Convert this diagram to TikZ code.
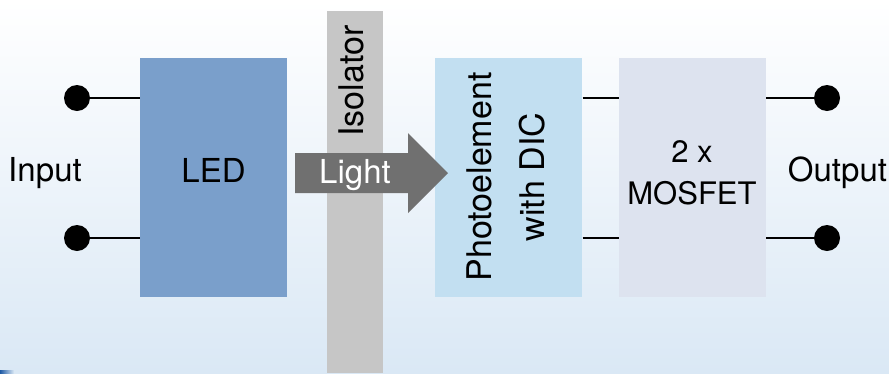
\documentclass[tikz,border=0pt]{standalone}
\usepackage{fontspec}
\setmainfont{TeX Gyre Heros}
\usetikzlibrary{positioning}
\definecolor{ledblue}{RGB}{122,159,203}
\definecolor{photoblue}{RGB}{194,223,241}
\definecolor{mosgray}{RGB}{221,227,239}
\definecolor{isogray}{RGB}{198,198,198}
\definecolor{arrowgray}{RGB}{112,112,112}
\definecolor{bgmid}{RGB}{243,248,252}
\definecolor{bgblue}{RGB}{218,232,245}
\definecolor{edgeblue}{RGB}{30,90,165}

\begin{document}
\begin{tikzpicture}[x=1pt, y=-1pt,
	block/.style={rectangle, minimum width=147pt, minimum height=239pt, inner sep=0pt},
	lbl/.style={font=\fontsize{33}{42}\selectfont, inner sep=0pt, align=center},
	biglbl/.style={font=\fontsize{34}{53}\selectfont, inner sep=0pt, align=center, rotate=90},
	pin/.style={circle, fill=black, minimum size=26pt, inner sep=0pt},
	wire/.style={line width=2pt}]
\useasboundingbox (0,0) rectangle (889,373);
\shade[top color=white, middle color=bgmid, bottom color=bgblue] (0,0) rectangle (889,373);
\shade[left color=edgeblue, right color=bgblue] (0,370.5) rectangle (14,373);

\node[rectangle, fill=isogray, minimum width=56pt, minimum height=362pt, inner sep=0pt] (iso) at (355,192) {};
\node[block, fill=ledblue] (led) at (213.5,177.5) {};
\node[block, fill=photoblue, right=148pt of led] (photo) {};
\node[block, fill=mosgray, right=36pt of photo] (mosfet) {};

\node[pin] (in1) at (77,98) {};
\node[pin] (in2) at (77,238) {};
\node[pin] (out1) at (827,98) {};
\node[pin] (out2) at (827,238) {};

\draw[wire] (in1) -- (in1 -| led.west);
\draw[wire] (in2) -- (in2 -| led.west);
\draw[wire] (photo.east |- in1) -- (mosfet.west |- in1);
\draw[wire] (photo.east |- in2) -- (mosfet.west |- in2);
\draw[wire] (mosfet.east |- out1) -- (out1);
\draw[wire] (mosfet.east |- out2) -- (out2);

\fill[arrowgray] (295,153) -- (408,153) -- (408,133) -- (448,173) -- (408,213) -- (408,193) -- (295,193) -- cycle;

\node[lbl, anchor=base] (input) at (45,181) {Input};
\node[lbl, anchor=base] (ledtxt) at (213.5,182.5) {LED};
\node[lbl, anchor=base, text=white] (light) at (355,183) {Light};
\node[lbl, anchor=base] (output) at (837.5,181) {Output};
\node[biglbl] (isotxt) at (351,81) {Isolator};
\node[biglbl] (phototxt) at (506,177) {Photoelement\\with DIC};
\node[lbl, font=\fontsize{31}{42}\selectfont] (mostxt) at (692,173) {2 x\\MOSFET};
\end{tikzpicture}
\end{document}
